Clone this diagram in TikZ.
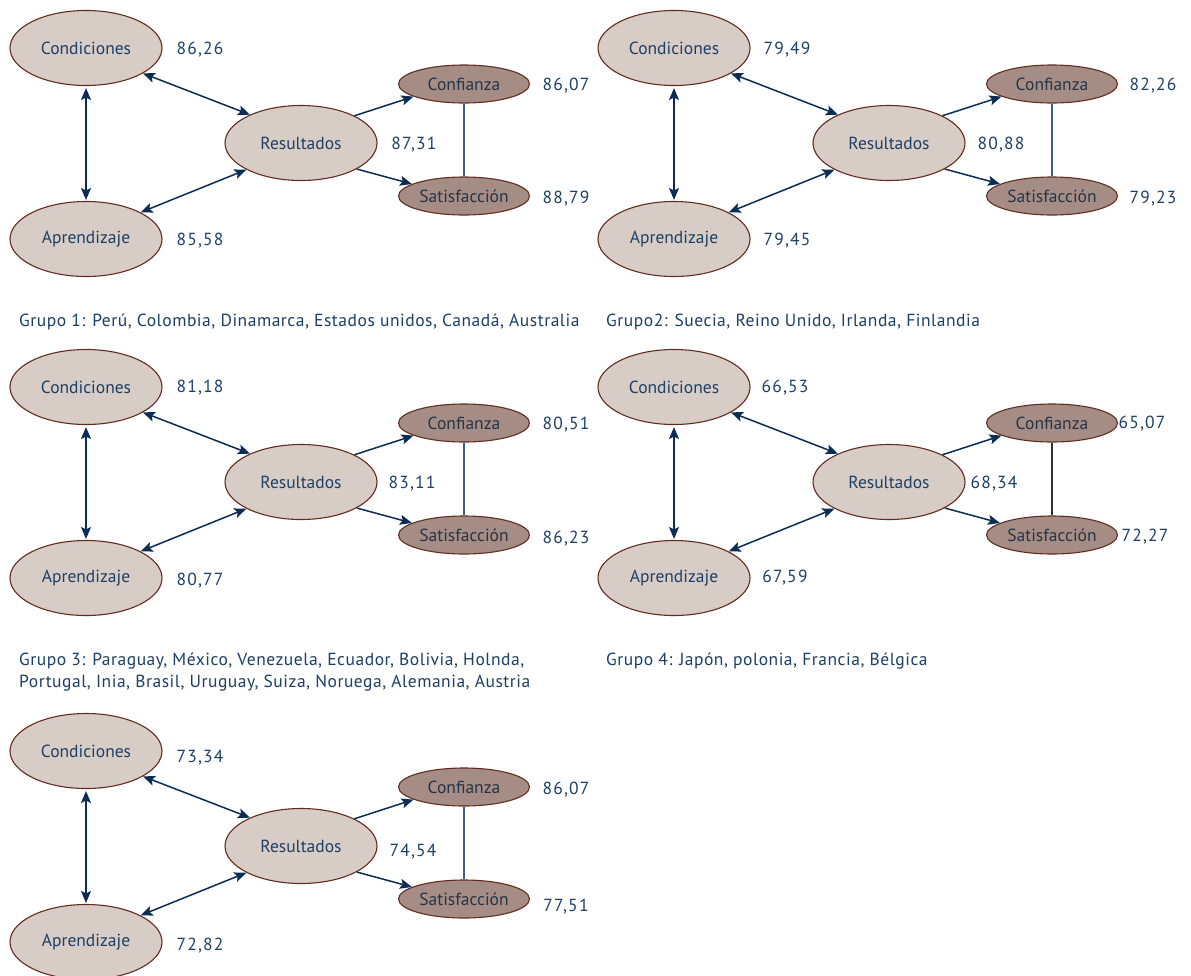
\documentclass[tikz,border=0pt]{standalone}
\usepackage{fontspec}
\setmainfont{PT Sans}
\newfontfamily\numfont[LetterSpace=7]{PT Sans}
\newfontfamily\capfont[LetterSpace=3]{PT Sans}
\usetikzlibrary{shapes.geometric,arrows.meta}
\definecolor{lightfill}{RGB}{216,205,198}
\definecolor{darkfill}{RGB}{165,141,133}
\definecolor{rim}{RGB}{98,44,32}
\definecolor{txt}{RGB}{29,63,102}
\definecolor{txtdark}{RGB}{38,52,72}
\definecolor{arr}{RGB}{11,45,85}
\definecolor{vline}{RGB}{64,96,127}
\tikzset{
  bigell/.style={ellipse,draw=rim,line width=1.1pt,fill=lightfill,minimum width=152pt,minimum height=75pt,inner sep=0pt,text=txt,font=\fontsize{17.5}{20}\selectfont},
  smallell/.style={ellipse,draw=rim,line width=1.1pt,fill=darkfill,minimum width=131pt,minimum height=38pt,inner sep=0pt,text=txtdark,font=\fontsize{17.5}{20}\selectfont},
  valtxt/.style={text=txt,font=\numfont\fontsize{17.5}{20}\selectfont,inner sep=0pt,yshift=-1.5pt},
  captxt/.style={text=txt,font=\capfont\fontsize{17.5}{22}\selectfont,inner sep=0pt,anchor=west,align=left},
  dbl/.style={arr,line width=1.5pt,{Stealth[length=12pt,width=10pt,inset=2.5pt]}-{Stealth[length=12pt,width=10pt,inset=2.5pt]}},
  onearr/.style={arr,line width=1.5pt,-{Stealth[length=12pt,width=10pt,inset=2.5pt]}},
  linkline/.style={vline,line width=1.3pt}
}
\newcommand\panelbody[1]{%
  \node[bigell] (c) at (86,48) {Condiciones};
  \node[bigell] (a) at (86,239) {Aprendizaje};
  \node[bigell] (r) at (301,143) {Resultados};
  \node[smallell] (f) at (464,84) {Confianza};
  \node[smallell] (s) at (464,196) {Satisfacción};
  \draw[dbl] (c.-24) -- (r.151);
  \draw[dbl] (a.26) -- (r.206);
  \draw[dbl] ([yshift=-2pt]c.south) -- ([yshift=1pt]a.north);
  \draw[onearr] (r.27) -- (f.194);
  \draw[onearr] (r.-25) -- (s.167);
  \draw[linkline,#1] (f.south) -- (s.north);
}
\begin{document}
\begin{tikzpicture}[x=1pt,y=-1pt]
\useasboundingbox (0,0) rectangle (1191,975);
\fill[white] (0,0) rectangle (1191,975);
\begin{scope}
\clip (0,0) rectangle (1191,975);
% Panel 1
\begin{scope}[name prefix=p1-]
  \panelbody{}
  \node[valtxt] (vc) at (200,48) {86,26};
  \node[valtxt] (va) at (200,239) {85,58};
  \node[valtxt] (vr) at (414,143) {87,31};
  \node[valtxt] (vf) at (566,84) {86,07};
  \node[valtxt] (vs) at (566,197) {88,79};
\end{scope}
% Panel 2
\begin{scope}[shift={(588,0)},name prefix=p2-]
  \panelbody{}
  \node[valtxt] (vc) at (199,48) {79,49};
  \node[valtxt] (va) at (199,239) {79,45};
  \node[valtxt] (vr) at (413,143) {80,88};
  \node[valtxt] (vf) at (565,84) {82,26};
  \node[valtxt] (vs) at (565,197) {79,23};
\end{scope}
% Panel 3
\begin{scope}[shift={(0,339)},name prefix=p3-]
  \panelbody{}
  \node[valtxt] (vc) at (200,47) {81,18};
  \node[valtxt] (va) at (200,240) {80,77};
  \node[valtxt] (vr) at (412,143) {83,11};
  \node[valtxt] (vf) at (566,84) {80,51};
  \node[valtxt] (vs) at (566,198) {86,23};
\end{scope}
% Panel 4
\begin{scope}[shift={(588,339)},name prefix=p4-]
  \panelbody{draw=black!80}
  \node[valtxt] (vc) at (197,47) {66,53};
  \node[valtxt] (va) at (197,237) {67,59};
  \node[valtxt] (vr) at (406,143) {68,34};
  \node[valtxt] (vf) at (554,83) {65,07};
  \node[valtxt] (vs) at (557,196) {72,27};
\end{scope}
% Panel 5
\begin{scope}[shift={(0,703)},name prefix=p5-]
  \panelbody{}
  \node[valtxt] (vc) at (200,53) {73,34};
  \node[valtxt] (va) at (200,241) {72,82};
  \node[valtxt] (vr) at (413,147) {74,54};
  \node[valtxt] (vf) at (566,85) {86,07};
  \node[valtxt] (vs) at (566,202) {77,51};
\end{scope}
\end{scope}
% Captions
\node[captxt] (g1) at (19,322) {Grupo 1: Perú, Colombia, Dinamarca, Estados unidos, Canadá, Australia};
\node[captxt] (g2) at (606,322) {Grupo2: Suecia, Reino Unido, Irlanda, Finlandia};
\node[captxt] (g3) at (19,672) {Grupo 3: Paraguay, México, Venezuela, Ecuador, Bolivia, Holnda,\\Portugal, Inia, Brasil, Uruguay, Suiza, Noruega, Alemania, Austria};
\node[captxt] (g4) at (606,661) {Grupo 4: Japón, polonia, Francia, Bélgica};
\end{tikzpicture}
\end{document}
